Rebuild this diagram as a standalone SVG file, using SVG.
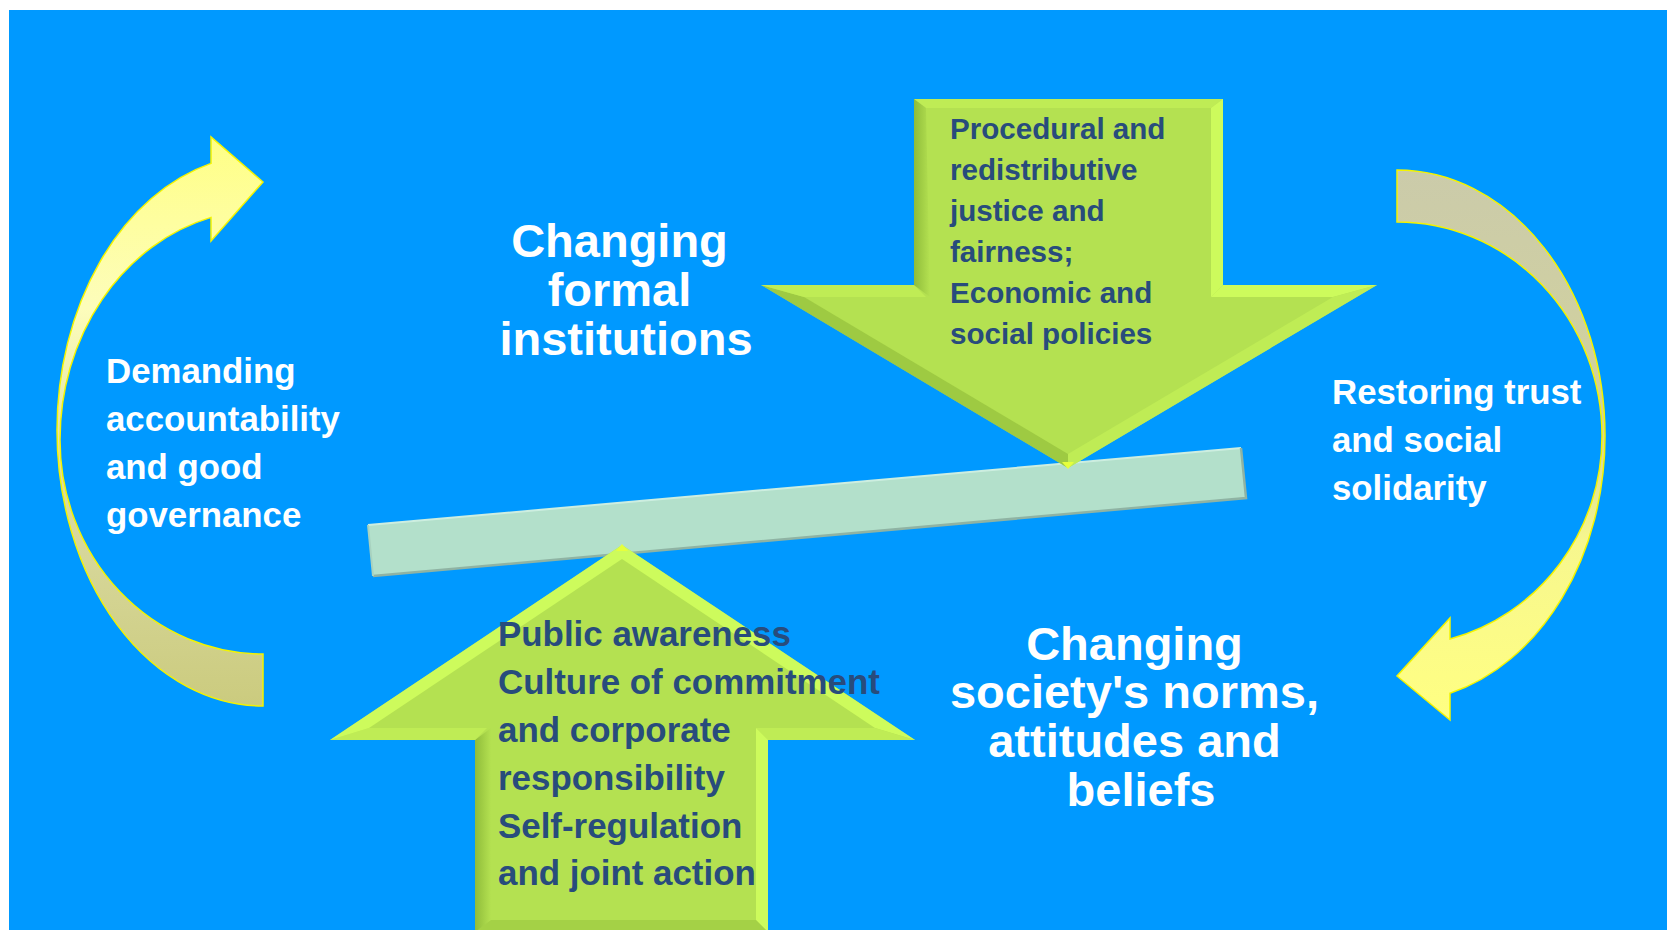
<svg xmlns="http://www.w3.org/2000/svg" width="1667" height="930" viewBox="0 0 1667 930">
<defs>
<style>
.hd{font-family:"Liberation Sans",Arial,sans-serif;font-weight:bold;font-size:47px;fill:#ffffff;text-anchor:middle}
.lb{font-family:"Liberation Sans",Arial,sans-serif;font-weight:bold;font-size:34.8px;fill:#ffffff}
.dk{font-family:"Liberation Sans",Arial,sans-serif;font-weight:bold;fill:#284c7c}
.base{fill:#b4e151}
.bl{fill:#cdfb5c}
.bd{fill:#94c13c}
.bm{fill:#bfec55}
</style>
<linearGradient id="gL" gradientUnits="userSpaceOnUse" x1="0" y1="137" x2="0" y2="707">
<stop offset="0" stop-color="#ffff85"/>
<stop offset="0.3" stop-color="#fdfdbb"/>
<stop offset="0.6" stop-color="#dcdca6"/>
<stop offset="1" stop-color="#cbcb7e"/>
</linearGradient>
<linearGradient id="gR" gradientUnits="userSpaceOnUse" x1="0" y1="170" x2="0" y2="720">
<stop offset="0" stop-color="#cbcbaa"/>
<stop offset="0.45" stop-color="#d2d29c"/>
<stop offset="0.68" stop-color="#f7f78e"/>
<stop offset="1" stop-color="#ffff82"/>
</linearGradient>
<linearGradient id="gLeftEdge" x1="0" y1="0" x2="1" y2="0">
<stop offset="0" stop-color="#8fbc3a"/>
<stop offset="1" stop-color="#b4e151"/>
</linearGradient>
</defs>

<rect x="0" y="0" width="1667" height="930" fill="#ffffff"/>
<rect x="9" y="10" width="1658" height="920" fill="#0099ff"/>

<g id="connectors">
<path id="arrow-left" d="M 263,182 L 211,137 L 211,163.4 A 206 276 0 0 0 57,430 A 206 276 0 0 0 263,706 L 263,654 A 203 214 0 0 1 60,440 A 203 230 0 0 1 211,217.4 L 211,241 Z" fill="url(#gL)" stroke="#f4f400" stroke-width="1.5"/>
<path id="arrow-right" d="M 1397,170 A 208 266 0 0 1 1605,436 A 208 266 0 0 1 1450,693.3 L 1450,720 L 1397,676 L 1450,618 L 1450,639 A 205 210 0 0 0 1602,436 A 205 214 0 0 0 1397,222 Z" fill="url(#gR)" stroke="#f4f400" stroke-width="1.5"/>
</g>

<g id="plank">
<polygon points="368,525 1241,448 1246,498 373,576" fill="#b3e0cb"/>
<polyline points="368,525 1241,448" fill="none" stroke="#cdeee0" stroke-width="2"/>
<polyline points="373,576 1246,498 1241,448" fill="none" stroke="#8fb3a3" stroke-width="2.5"/>
<line x1="368" y1="525" x2="373" y2="576" stroke="#a8d2bf" stroke-width="2"/>
</g>

<g id="down-arrow">
<polygon class="base" points="914,99 1223,99 1223,285 1377,285 1068,468 761,285 914,285"/>
<polygon class="bm" points="914,99 1223,99 1211,108 926,108"/>
<polygon class="bl" points="1223,99 1223,285 1211,297 1211,108"/>
<polygon class="bl" points="1223,285 1377,285 1333,297 1211,297"/>
<polygon class="bm" points="1377,285 1068,468 1068,454 1333,297"/>
<polygon class="bd" points="1068,468 761,285 804,297 1068,454" opacity="0.7"/>
<polygon class="bm" points="761,285 914,285 926,297 804,297"/>
<polygon fill="url(#gLeftEdge)" points="914,99 926,108 930,297 914,285"/>
<polygon points="1062,462 1074,462 1068,469" fill="#e6ff3c"/>
<text class="dk" font-size="29.6">
<tspan x="950" y="139">Procedural and</tspan>
<tspan x="950" y="180">redistributive</tspan>
<tspan x="950" y="221">justice and</tspan>
<tspan x="950" y="262">fairness;</tspan>
<tspan x="950" y="303">Economic and</tspan>
<tspan x="950" y="344">social policies</tspan>
</text>
</g>

<g id="up-arrow">
<polygon class="base" points="622,545 915,740 768,740 768,932 475,932 475,740 330,740"/>
<polygon class="bl" points="622,545 915,740 875,728 622,559"/>
<polygon class="bm" points="915,740 768,740 756,728 875,728"/>
<polygon class="bl" points="768,740 768,932 756,920 756,728"/>
<polygon class="bd" points="768,932 475,932 487,920 756,920" opacity="0.5"/>
<polygon fill="url(#gLeftEdge)" points="475,932 475,740 491,728 491,920"/>
<polygon class="bm" points="475,740 330,740 369,728 487,728"/>
<polygon class="bl" points="330,740 622,545 622,559 369,728"/>
<polygon points="616,551 628,551 622,544" fill="#e6ff3c"/>
<text class="dk" font-size="34.9">
<tspan x="498" y="646">Public awareness</tspan>
<tspan x="498" y="694">Culture of commitment</tspan>
<tspan x="498" y="742">and corporate</tspan>
<tspan x="498" y="790">responsibility</tspan>
<tspan x="498" y="838">Self-regulation</tspan>
<tspan x="498" y="885">and joint action</tspan>
</text>
</g>

<g id="heading-institutions">
<text class="hd">
<tspan x="626" y="257">Changing</tspan>
<tspan x="626" y="306">formal</tspan>
<tspan x="626" y="355">institutions</tspan>
</text>
</g>

<g id="heading-society">
<text class="hd">
<tspan x="1141" y="660">Changing</tspan>
<tspan x="1141" y="708">society's norms,</tspan>
<tspan x="1141" y="757">attitudes and</tspan>
<tspan x="1141" y="806">beliefs</tspan>
</text>
</g>

<g id="label-accountability">
<text class="lb">
<tspan x="106" y="383">Demanding</tspan>
<tspan x="106" y="431">accountability</tspan>
<tspan x="106" y="479">and good</tspan>
<tspan x="106" y="527">governance</tspan>
</text>
</g>

<g id="label-trust">
<text class="lb">
<tspan x="1332" y="404">Restoring trust</tspan>
<tspan x="1332" y="452">and social</tspan>
<tspan x="1332" y="500">solidarity</tspan>
</text>
</g>
</svg>
